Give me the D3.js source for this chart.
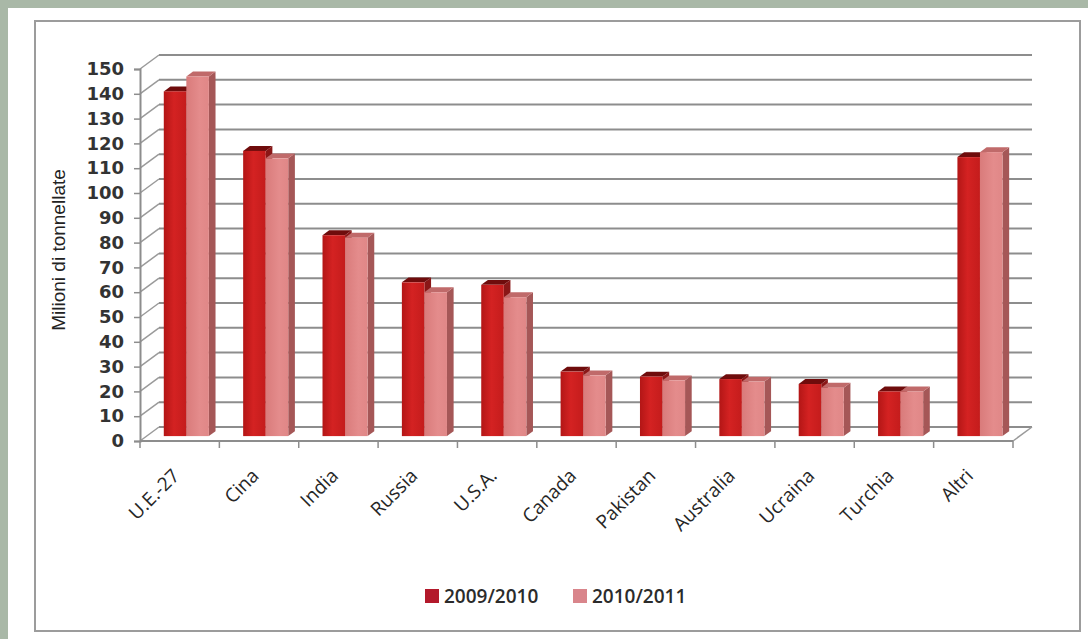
<!DOCTYPE html>
<html>
<head>
<meta charset="utf-8">
<script src="https://cdn.jsdelivr.net/npm/d3@7"></script>
<style>
  body { margin: 0; background: #a9b8a7; }
  svg { display: block; }
</style>
</head>
<body>
<div id="chart"></div>
<script>
// values (milioni di tonnellate)
const categories = ['U.E.-27', 'Cina', 'India', 'Russia', 'U.S.A.', 'Canada', 'Pakistan', 'Australia', 'Ucraina', 'Turchia', 'Altri'];
const series = ['2009/2010', '2010/2011'];
const values0910 = [139, 115, 81, 62, 61, 26, 24, 23, 21, 18, 112.5];
const values1011 = [145, 112, 80, 58, 56, 24.5, 22.5, 22, 19.5, 18, 114.5];
const yTicks = [0, 10, 20, 30, 40, 50, 60, 70, 80, 90, 100, 110, 120, 130, 140, 150];

const width = 1088;
const height = 639;
const plot = {left: 140, right: 1013, bottom: 441, top: 69};
const depth = {dx: 19, dy: -14};     // 3d offset of the back wall
const barFront = 0.35, barBack = 0.7; // bars sit between these depth fractions

const colors = {
  '2009/2010': {front: 'url(#gDark)', side: '#8a1717', top: '#6f0c0c', swatch: '#b3192b'},
  '2010/2011': {front: 'url(#gLight)', side: '#a55757', top: '#c06a6a', swatch: '#d9858b'}
};

const svg = d3.select('#chart').append('svg')
  .attr('width', width)
  .attr('height', height);

const defs = svg.append('defs');
const gDark = defs.append('linearGradient').attr('id', 'gDark');
gDark.append('stop').attr('offset', '0%').attr('stop-color', '#b31616');
gDark.append('stop').attr('offset', '45%').attr('stop-color', '#d42222');
gDark.append('stop').attr('offset', '100%').attr('stop-color', '#c41c1c');
const gLight = defs.append('linearGradient').attr('id', 'gLight');
gLight.append('stop').attr('offset', '0%').attr('stop-color', '#d97b7b');
gLight.append('stop').attr('offset', '60%').attr('stop-color', '#e48c8c');
gLight.append('stop').attr('offset', '100%').attr('stop-color', '#e08787');

// white card and chart frame
svg.append('rect').attr('x', 8).attr('y', 8).attr('width', width - 8).attr('height', height - 8).attr('fill', '#fff');
svg.append('rect').attr('x', 35).attr('y', 21).attr('width', 1045).attr('height', 610)
  .attr('fill', 'none').attr('stroke', '#9c9c9c').attr('stroke-width', 2);

const x = d3.scaleBand().domain(categories).range([plot.left, plot.right]);
const xs = d3.scaleBand().domain(series).range([0, x.bandwidth()]).paddingOuter(0.76);
const y = d3.scaleLinear().domain([0, 150]).range([plot.bottom, plot.top]);

// back wall gridlines
svg.append('g').selectAll('line')
  .data(yTicks)
  .join('line')
  .attr('x1', plot.left + depth.dx)
  .attr('x2', plot.right + depth.dx)
  .attr('y1', d => y(d) + depth.dy)
  .attr('y2', d => y(d) + depth.dy)
  .attr('stroke', '#8d8d8d')
  .attr('stroke-width', 2);

// side wall lines
svg.append('g').selectAll('line')
  .data(yTicks)
  .join('line')
  .attr('x1', plot.left)
  .attr('x2', plot.left + depth.dx)
  .attr('y1', d => y(d))
  .attr('y2', d => y(d) + depth.dy)
  .attr('stroke', '#9a9a9a')
  .attr('stroke-width', 1.5);

// floor edges
svg.append('line')
  .attr('x1', plot.right).attr('y1', y(0))
  .attr('x2', plot.right + depth.dx).attr('y2', y(0) + depth.dy)
  .attr('stroke', '#9a9a9a').attr('stroke-width', 1.5);

// bars
const rows = categories.map((c, i) => ({cat: c, vals: [
  {s: series[0], v: values0910[i]},
  {s: series[1], v: values1011[i]}
]}));

const f0 = {dx: depth.dx * barFront, dy: depth.dy * barFront};
const fd = {dx: depth.dx * (barBack - barFront), dy: depth.dy * (barBack - barFront)};

rows.forEach(r => {
  r.vals.forEach(d => {
    const xl = x(r.cat) + xs(d.s) + f0.dx;
    const xr = xl + xs.bandwidth();
    const yt = y(d.v) + f0.dy;
    const yb = y(0) + f0.dy;
    const g = svg.append('g');
    g.append('polygon')
      .attr('points', [[xr, yt], [xr + fd.dx, yt + fd.dy], [xr + fd.dx, yb + fd.dy], [xr, yb]].join(' '))
      .attr('fill', colors[d.s].side);
    g.append('polygon')
      .attr('points', [[xl, yt], [xr, yt], [xr + fd.dx, yt + fd.dy], [xl + fd.dx, yt + fd.dy]].join(' '))
      .attr('fill', colors[d.s].top);
    g.append('rect')
      .attr('x', xl).attr('y', yt)
      .attr('width', xs.bandwidth()).attr('height', yb - yt)
      .attr('fill', colors[d.s].front);
  });
});

// front floor edge + category ticks
svg.append('line')
  .attr('x1', plot.left).attr('x2', plot.right)
  .attr('y1', y(0)).attr('y2', y(0))
  .attr('stroke', '#8d8d8d').attr('stroke-width', 2);

const tickXs = categories.map(c => x(c)).concat([plot.right]);
svg.append('g').selectAll('line')
  .data(tickXs)
  .join('line')
  .attr('x1', d => d).attr('x2', d => d)
  .attr('y1', y(0)).attr('y2', y(0) + 7)
  .attr('stroke', '#8d8d8d').attr('stroke-width', 1.5);

// y axis
const yAxis = svg.append('g')
  .attr('transform', `translate(${plot.left},0)`)
  .call(d3.axisLeft(y).tickValues(yTicks).tickSize(6).tickPadding(10));
yAxis.select('.domain').attr('stroke', '#8d8d8d').attr('stroke-width', 2);
yAxis.selectAll('.tick line').attr('stroke', '#8d8d8d').attr('stroke-width', 1.5);
yAxis.selectAll('.tick text')
  .attr('font-family', 'DejaVu Sans')
  .attr('font-weight', 'bold')
  .attr('font-size', 18)
  .attr('fill', '#333');

svg.append('text')
  .attr('transform', 'translate(65,250) rotate(-90)')
  .attr('text-anchor', 'middle')
  .attr('font-family', 'Liberation Sans')
  .attr('font-size', 19)
  .attr('fill', '#222')
  .text('Milioni di tonnellate');

// category labels
svg.append('g').selectAll('text')
  .data(categories)
  .join('text')
  .attr('transform', d => `translate(${x(d) + x.bandwidth() / 2 + 1},${y(0) + 36}) rotate(-45)`)
  .attr('text-anchor', 'end')
  .attr('font-family', 'Open Sans')
  .attr('font-size', 19)
  .attr('fill', '#262626')
  .text(d => d);

// legend
const legend = svg.append('g').attr('transform', 'translate(425,589)');
const item = legend.selectAll('g')
  .data(series)
  .join('g')
  .attr('transform', (d, i) => `translate(${i * 148},0)`);
item.append('rect')
  .attr('width', 14).attr('height', 14)
  .attr('fill', d => colors[d].swatch);
item.append('text')
  .attr('x', 19).attr('y', 14)
  .attr('font-family', 'Open Sans')
  .attr('font-weight', 600)
  .attr('font-size', 19)
  .attr('fill', '#2b2b2b')
  .text(d => d);
</script>
</body>
</html>
